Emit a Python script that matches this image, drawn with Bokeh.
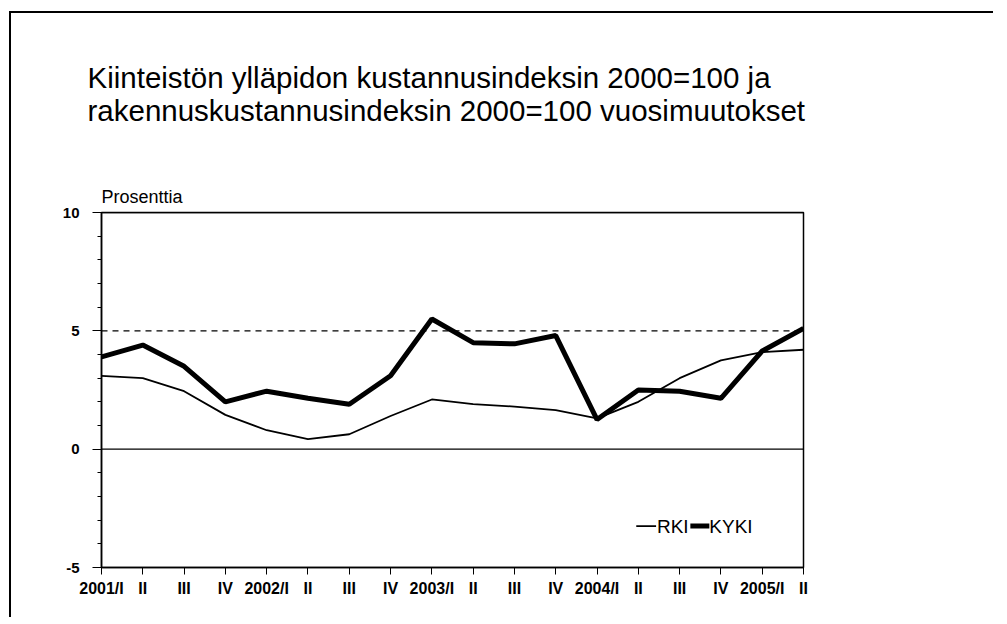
from bokeh.plotting import figure
from bokeh.models import Label, Span, FixedTicker, Range1d, Title
from bokeh.embed import file_html
from bokeh.resources import INLINE

quarters = ["2001/I", "II", "III", "IV", "2002/I", "II", "III", "IV",
            "2003/I", "II", "III", "IV", "2004/I", "II", "III", "IV",
            "2005/I", "II"]
rki = [3.1, 3.0, 2.45, 1.45, 0.8, 0.42, 0.63, 1.4, 2.1, 1.9, 1.8, 1.65,
       1.3, 2.0, 3.0, 3.75, 4.1, 4.2]
kyki = [3.9, 4.4, 3.5, 2.0, 2.45, 2.15, 1.9, 3.1, 5.5, 4.5, 4.45, 4.8,
        1.25, 2.5, 2.45, 2.15, 4.15, 5.1]
title_lines = ["Kiinteistön ylläpidon kustannusindeksin 2000=100 ja",
               "rakennuskustannusindeksin 2000=100 vuosimuutokset"]
y_caption = "Prosenttia"
y_ticks = [-5, 0, 5, 10]
y_tick_labels = ["-5", "0", "5", "10"]
x = list(range(len(quarters)))

FONT = "Liberation Sans"

p = figure(width=984, height=606, output_backend="svg", toolbar_location=None,
           x_range=Range1d(0, len(quarters) - 1), y_range=Range1d(-5, 10),
           min_border_left=90, min_border_right=192, min_border_top=199,
           min_border_bottom=52)
p.styles = {"border-left": "2px solid black", "border-top": "2px solid black",
            "margin-left": "9px", "margin-top": "11px"}
p.background_fill_color = "white"
p.border_fill_color = "white"
p.outline_line_color = "black"
p.outline_line_width = 1.5
p.xgrid.visible = False
p.ygrid.visible = False

# panels above the frame (first added sits closest to the frame)
p.add_layout(Title(text=y_caption, align="left", text_font=FONT,
                   text_font_size="18px", text_font_style="normal",
                   text_color="black", standoff=11), "above")
p.add_layout(Title(text=" ", align="left", text_font=FONT,
                   text_font_size="2px", text_color="white", standoff=49), "above")
p.add_layout(Title(text="\n".join(title_lines), align="left", text_font=FONT,
                   text_font_size="29.5px", text_font_style="normal",
                   text_line_height=1.0,
                   text_color="black", standoff=0, offset=-14), "above")

# axes
p.yaxis.ticker = FixedTicker(ticks=y_ticks, minor_ticks=list(range(-5, 11)))
p.yaxis.major_label_overrides = {t: s for t, s in zip(y_ticks, y_tick_labels)}
p.yaxis.major_tick_out = 9
p.yaxis.major_tick_in = 0
p.yaxis.minor_tick_out = 4
p.yaxis.minor_tick_in = 0
p.yaxis.axis_line_width = 1.5
p.yaxis.major_label_text_font = FONT
p.yaxis.major_label_text_font_size = "15px"
p.yaxis.major_label_text_font_style = "bold"
p.yaxis.major_label_text_color = "black"
p.yaxis.major_label_standoff = 13

p.xaxis.ticker = FixedTicker(ticks=x)
p.xaxis.major_label_overrides = {i: q for i, q in enumerate(quarters)}
p.xaxis.major_tick_out = 7
p.xaxis.major_tick_in = 0
p.xaxis.minor_tick_line_color = None
p.xaxis.axis_line_width = 1.5
p.xaxis.major_label_text_font = FONT
p.xaxis.major_label_text_font_size = "16px"
p.xaxis.major_label_text_font_style = "bold"
p.xaxis.major_label_text_color = "black"
p.xaxis.major_label_standoff = 5

# reference lines
p.add_layout(Span(location=0, dimension="width", line_color="black", line_width=1.3))
p.add_layout(Span(location=5, dimension="width", line_color="black", line_width=1.2,
                  line_dash="6 5"))
p.add_layout(Span(location=10, dimension="width", line_color="black", line_width=1.5))

# series
p.line(x, rki, line_color="black", line_width=1.8)
p.line(x, kyki, line_color="black", line_width=5)

# legend (drawn manually to match original)
ly = -3.25
p.line([12.95, 13.43], [ly, ly], line_color="black", line_width=1.8)
p.add_layout(Label(x=13.45, y=ly, text="RKI", text_font=FONT, text_color="black",
                   text_font_size="19px", text_baseline="middle"))
p.line([14.26, 14.72], [ly, ly], line_color="black", line_width=5)
p.add_layout(Label(x=14.72, y=ly, text="KYKI", text_font=FONT, text_color="black",
                   text_font_size="19px", text_baseline="middle"))

open("out.html", "w").write(file_html(p, INLINE))
